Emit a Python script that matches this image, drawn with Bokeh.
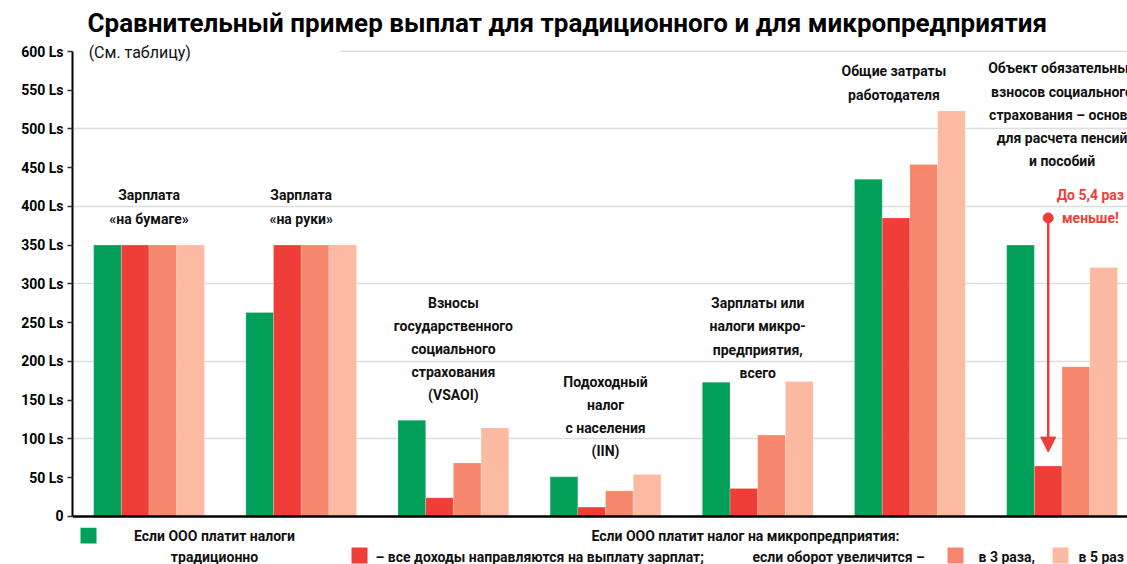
from bokeh.plotting import figure
from bokeh.models import Range1d, FixedTicker, Arrow, NormalHead
from bokeh.layouts import column
from bokeh.embed import file_html
from bokeh.resources import INLINE
import numpy as np

FONT = "Roboto"

# ---------------- data ----------------
group_labels = [
    "Зарплата\n«на бумаге»",
    "Зарплата\n«на руки»",
    "Взносы\nгосударственного\nсоциального\nстрахования\n(VSAOI)",
    "Подоходный\nналог\nс населения\n(IIN)",
    "Зарплаты или\nналоги микро-\nпредприятия,\nвсего",
    "Общие затраты\nработодателя",
    "Объект обязательных\nвзносов социального\nстрахования – основа\nдля расчета пенсий\nи пособий",
]
traditional = [350, 263, 124, 51, 173, 435, 350]
micro_salary = [350, 350, 24, 12, 36, 385, 65]
micro_x3 = [350, 350, 69, 33, 105, 454, 193]
micro_x5 = [350, 350, 114, 54, 174, 523, 321]
series = [traditional, micro_salary, micro_x3, micro_x5]
colors = ["#00A05B", "#EF3E38", "#F6866C", "#FDBAA2"]

y_ticks = list(range(0, 601, 50))
y_tick_labels = ["0"] + [f"{v} Ls" for v in y_ticks[1:]]
grid_ticks = [100, 200, 300, 400, 500]

title_text = "Сравнительный пример выплат для традиционного и для микропредприятия"
subtitle_text = "(См. таблицу)"
callout_text = "До 5,4 раз\nменьше!"

# label anchors (x in group units, y in Ls)
label_x = [0, 1, 2, 3, 4, 4.895, 6]
label_y = [399, 399, 216, 129, 230, 559, 518]

W = 1127
BORDER_L = 72
FRAME_X = (72, 1127)   # page-pixel span of every plot frame


def strip(height):
    f = figure(width=W, height=height, output_backend="svg", toolbar_location=None,
               x_range=Range1d(*FRAME_X), y_range=Range1d(height, 0),
               min_border_left=BORDER_L, min_border_right=0,
               min_border_top=0, min_border_bottom=0)
    f.axis.visible = False
    f.grid.visible = False
    f.outline_line_color = None
    return f


# ---------------- title strip ----------------
tt = strip(43)
tt.text(x=[87], y=[22], text=[title_text], text_align="left", text_baseline="middle",
        text_font={"value": FONT}, text_font_style="bold", text_font_size="26px",
        text_color="black")

# ---------------- main figure ----------------
p = figure(width=W, height=484, output_backend="svg", toolbar_location=None,
           x_range=Range1d(-0.503, 6.430), y_range=Range1d(-4, 610),
           min_border_left=BORDER_L, min_border_right=0, min_border_top=0,
           min_border_bottom=8)
p.outline_line_color = None
p.xaxis.visible = False
p.xgrid.visible = False
p.ygrid.ticker = FixedTicker(ticks=grid_ticks)
p.ygrid.grid_line_color = "#dddddd"
p.ygrid.grid_line_width = 1.5

ya = p.yaxis[0]
ya.ticker = FixedTicker(ticks=y_ticks)
ya.major_label_overrides = {t: l for t, l in zip(y_ticks, y_tick_labels)}
ya.bounds = (0, 600)
ya.axis_line_color = "black"
ya.axis_line_width = 2
ya.major_tick_line_color = "#333333"
ya.major_tick_line_width = 1.5
ya.major_tick_out = 5
ya.major_tick_in = 0
ya.minor_tick_line_color = None
ya.major_label_standoff = 4
ya.major_label_text_font = FONT
ya.major_label_text_font_style = "bold"
ya.major_label_text_font_size = "14px"
ya.major_label_text_color = "black"

# 600 grid line (interrupted at left by the subtitle)
p.segment(x0=[1.258], y0=[600], x1=[6.430], y1=[600], line_color="#dddddd", line_width=1.5)

bw = 0.182
idx = np.arange(len(group_labels))
offsets = [-1.5 * bw, -0.5 * bw, 0.5 * bw, 1.5 * bw]
for vals, off, col in zip(series, offsets, colors):
    p.vbar(x=idx + off, top=vals, bottom=0, width=bw, fill_color=col,
           line_color="white", line_alpha=0.35, line_width=0.6)

p.hspan(y=[0], line_color="black", line_width=2.5)

p.text(x=label_x, y=label_y, text=group_labels, text_align="center",
       text_baseline="middle", text_font={"value": FONT}, text_font_style="bold",
       text_font_size="14px", text_color="#111111", text_line_height=1.45)

# subtitle
p.text(x=[-0.397], y=[599], text=[subtitle_text], text_align="left",
       text_baseline="middle", text_font={"value": FONT}, text_font_style="normal",
       text_font_size="16px", text_color="#111111")

# callout
red_bar_x = 6 + offsets[1]
p.text(x=[6.186], y=[400], text=[callout_text], text_align="center",
       text_baseline="middle", text_font={"value": FONT}, text_font_style="bold",
       text_font_size="14px", text_color="#EF3E38", text_line_height=1.45)
p.add_layout(Arrow(end=NormalHead(size=15, fill_color="#EF3E38", line_color="#EF3E38"),
                   x_start=red_bar_x, y_start=385, x_end=red_bar_x, y_end=83,
                   line_color="#EF3E38", line_width=2.5))
p.scatter(x=[red_bar_x], y=[385], size=10, color="#EF3E38")

# ---------------- legend strip ----------------
lg = strip(37)
leg_square_x = [88, 359, 955, 1060]
leg_square_y = [8, 28, 28, 28]
lg.rect(x=leg_square_x, y=leg_square_y, width=16, height=16, fill_color=colors,
        line_color=None)
leg_texts = ["Если ООО платит налоги", "традиционно",
             "Если ООО платит налог на микропредприятия:"]
lg.text(x=[214, 214, 745], y=[8, 29, 8], text=leg_texts, text_align="center",
        text_baseline="middle", text_font={"value": FONT}, text_font_style="bold",
        text_font_size="14px", text_color="#111111")
leg_texts2 = ["– все доходы направляются на выплату зарплат;",
              "если оборот увеличится –", "в 3 раза,", "в 5 раз"]
lg.text(x=[375, 752, 978, 1078], y=[29, 29, 29, 29], text=leg_texts2, text_align="left",
        text_baseline="middle", text_font={"value": FONT}, text_font_style="bold",
        text_font_size="14px", text_color="#111111")

page = column(tt, p, lg, spacing=0)
open("out.html", "w").write(file_html(page, INLINE))
